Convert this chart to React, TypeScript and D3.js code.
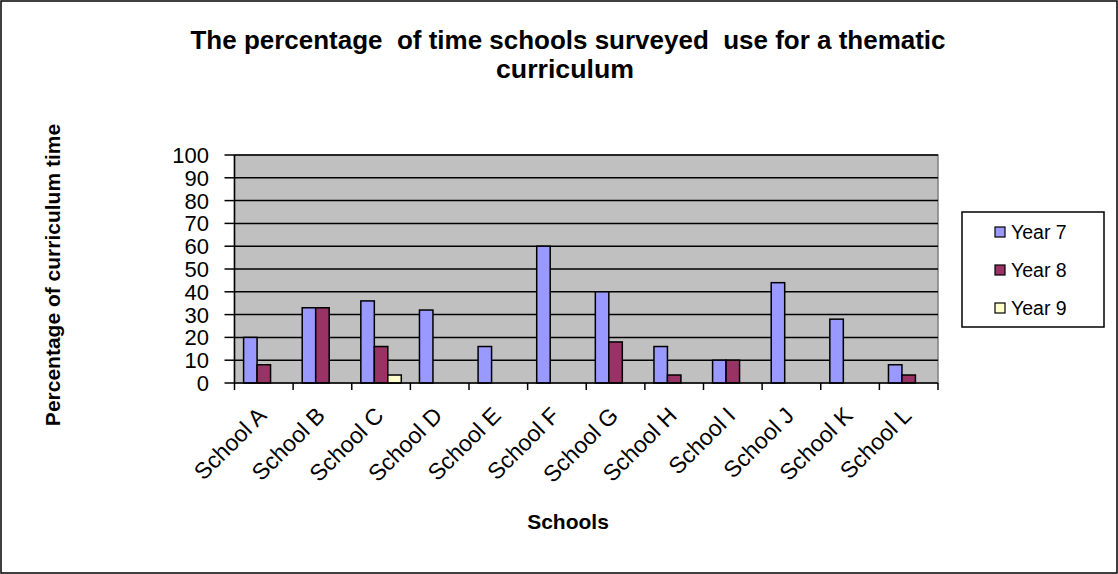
import React from "react";
import * as d3 from "d3";

const categories = ["School A","School B","School C","School D","School E","School F","School G","School H","School I","School J","School K","School L"];
const seriesNames = ["Year 7","Year 8","Year 9"];
const year7 = [20,33,36,32,16,60,40,16,10,44,28,8];
const year8 = [8,33,16,0,0,0,18,3.5,10,0,0,3.5];
const year9 = [0,0,3.5,0,0,0,0,0,0,0,0,0];
const yTicks = [0,10,20,30,40,50,60,70,80,90,100];
const colors = ["#9999FF","#993366","#FFFFCC"];
const titleLine1 = "The percentage  of time schools surveyed  use for a thematic";
const titleLine2 = "curriculum";

const W = 1118, H = 574;
const plot = { left: 234.5, right: 938, top: 155, bottom: 383 };

export default function App() {
  const series = [year7, year8, year9];
  const x0 = d3.scaleBand<string>().domain(categories).range([plot.left, plot.right]).padding(0);
  const bw = x0.bandwidth();
  const x1 = d3.scaleBand<string>().domain(seriesNames).range([bw * 0.155, bw * 0.845]).padding(0);
  const y = d3.scaleLinear().domain([0, 100]).range([plot.bottom, plot.top]);
  const font = "Arial, 'Liberation Sans', Helvetica, sans-serif";
  const narrow = "'Liberation Sans Narrow', 'Arial Narrow', Arial, sans-serif";

  return (
    <svg width={W} height={H} style={{ position: "absolute", left: 0, top: 0, background: "#fff" }} fontFamily={font}>
      <rect x={1} y={1} width={W - 2} height={H - 2} fill="#fff" stroke="#000" strokeWidth={1.5} />
      {/* title */}
      <text x={568} y={49} textAnchor="middle" fontSize={25} fontWeight="bold" style={{ whiteSpace: "pre" }}
        fontFamily={narrow} textLength={755} lengthAdjust="spacingAndGlyphs">{titleLine1}</text>
      <text x={565} y={78} textAnchor="middle" fontSize={25} fontWeight="bold"
        fontFamily={narrow} textLength={138} lengthAdjust="spacingAndGlyphs">{titleLine2}</text>

      {/* plot area */}
      <rect x={plot.left} y={plot.top} width={plot.right - plot.left} height={plot.bottom - plot.top} fill="#C0C0C0" stroke="#808080" strokeWidth={1.5} />
      {yTicks.filter(t => t > 0).map(t => (
        <line key={"g" + t} x1={plot.left} x2={plot.right} y1={y(t)} y2={y(t)} stroke="#000" strokeWidth={1.5} />
      ))}

      {/* bars */}
      {categories.map((c, i) => (
        <g key={c} transform={`translate(${x0(c)},0)`}>
          {series.map((s, k) => s[i] > 0 ? (
            <rect key={k} x={x1(seriesNames[k])} y={y(s[i])} width={x1.bandwidth()} height={y(0) - y(s[i])}
              fill={colors[k]} stroke="#000" strokeWidth={1.5} />
          ) : null)}
        </g>
      ))}

      {/* axes */}
      <line x1={plot.left} x2={plot.left} y1={plot.top} y2={plot.bottom} stroke="#000" strokeWidth={1.5} />
      <line x1={plot.left} x2={plot.right} y1={plot.bottom} y2={plot.bottom} stroke="#000" strokeWidth={1.5} />
      {yTicks.map(t => (
        <g key={"t" + t}>
          <line x1={plot.left - 10} x2={plot.left} y1={y(t)} y2={y(t)} stroke="#000" strokeWidth={1.5} />
          <text x={209} y={y(t)} dy="0.36em" textAnchor="end" fontSize={22}>{t}</text>
        </g>
      ))}
      {[...categories.map(c => x0(c) as number), plot.right].map((xv, i) => (
        <line key={"xt" + i} x1={xv} x2={xv} y1={plot.bottom} y2={plot.bottom + 7} stroke="#000" strokeWidth={1.5} />
      ))}
      {categories.map(c => {
        const cx = (x0(c) as number) + bw / 2;
        return (
          <text key={"l" + c} transform={`translate(${cx + 4},417) rotate(-45)`} textAnchor="end" fontSize={23}>{c}</text>
        );
      })}

      {/* axis titles */}
      <text x={568} y={529} textAnchor="middle" fontSize={21} fontWeight="bold">Schools</text>
      <text transform={`translate(60,275) rotate(-90)`} textAnchor="middle" fontSize={21} fontWeight="bold">Percentage of curriculum time</text>

      {/* legend */}
      <rect x={962} y={212} width={142} height={115} fill="#fff" stroke="#000" strokeWidth={1.5} />
      {seriesNames.map((n, k) => {
        const cy = 232 + k * 38;
        return (
          <g key={n}>
            <rect x={995} y={cy - 5} width={10} height={10} fill={colors[k]} stroke="#000" strokeWidth={1.2} />
            <text x={1011} y={cy} dy="0.36em" fontSize={19.5}>{n}</text>
          </g>
        );
      })}
    </svg>
  );
}
